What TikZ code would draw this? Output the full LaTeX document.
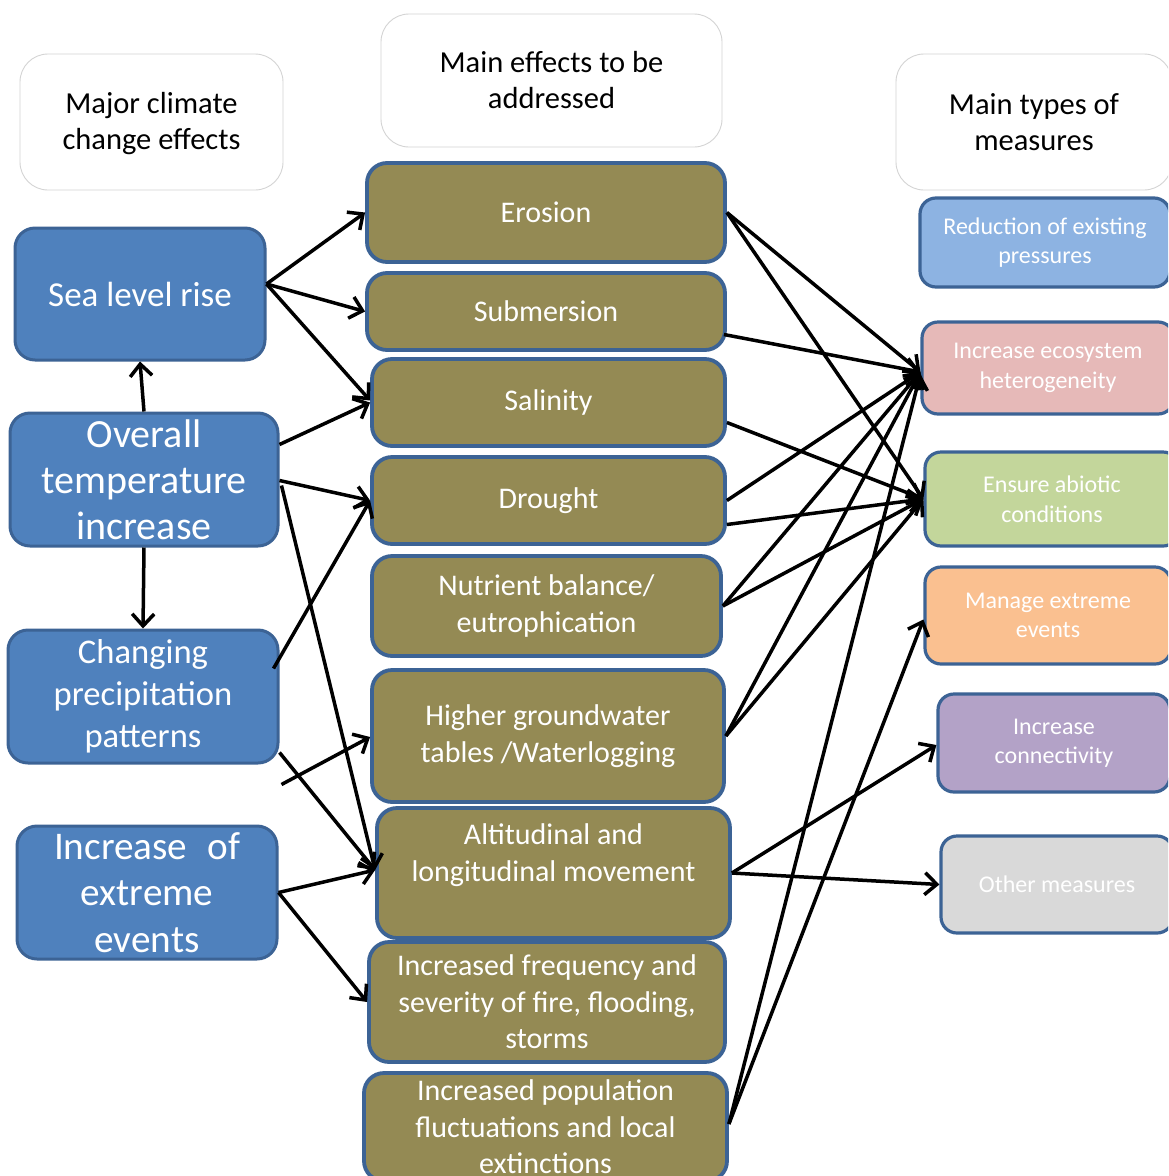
\documentclass[tikz,border=0pt]{standalone}
\usepackage{fontspec}
\setmainfont{Carlito}
\usetikzlibrary{arrows.meta,calc}
\definecolor{causefill}{HTML}{4F81BD}
\definecolor{boxline}{HTML}{3C6395}
\definecolor{olivefill}{HTML}{948A54}
\definecolor{hdrline}{HTML}{D4D4D4}
\definecolor{redfill}{HTML}{8DB3E2}
\definecolor{hetfill}{HTML}{E6B9B8}
\definecolor{abifill}{HTML}{C3D69B}
\definecolor{manfill}{HTML}{FAC090}
\definecolor{confill}{HTML}{B3A2C7}
\definecolor{othfill}{HTML}{D9D9D9}
\begin{document}
\begin{tikzpicture}[x=1pt,y=-1pt,
  hdr/.style={draw=hdrline, line width=0.9pt, fill=white, rounded corners=28pt,
    font=\fontsize{30.5}{36}\selectfont, align=center, inner sep=0pt, text=black},
  cause/.style={draw=boxline, line width=3pt, fill=causefill, rounded corners=20pt,
    text=white, align=center, inner sep=0pt},
  effect/.style={draw=boxline, line width=3.8pt, fill=olivefill, rounded corners=20pt,
    text=white, align=center, inner sep=0pt, font=\fontsize{30}{36.5}\selectfont},
  efftext/.style={text=white, align=center, inner sep=0pt, font=\fontsize{30}{36.5}\selectfont},
  meas/.style={draw=boxline, line width=3.2pt, rounded corners=16pt,
    text=white, align=center, inner sep=0pt, font=\fontsize{24}{29.5}\selectfont},
  arr/.style={line width=3.5pt, -{Straight Barb[length=12pt,width=22pt]}}
]
\useasboundingbox (0,0) rectangle (1168,1176);
\clip (0,0) rectangle (1168,1176);
\fill[white] (0,0) rectangle (1168,1176);

% headers
\node[hdr, minimum width=263, minimum height=136] (hA) at (151.5,122) {};
\node[text=black, align=center, inner sep=0pt, font=\fontsize{30.5}{36}\selectfont] (hAT) at ($(hA.center)+(0,2)$) {Major climate\\change effects};
\node[hdr, minimum width=341, minimum height=133] (hB) at (551.5,80.5) {Main effects to be\\addressed};
\node[hdr, minimum width=276, minimum height=136] (hC) at (1034,122) {Main types of\\measures};

% causes
\node[cause, minimum width=250, minimum height=132, font=\fontsize{35}{42}\selectfont] (sea) at (140,294) {Sea level rise};
\node[cause, minimum width=268, minimum height=133, font=\fontsize{40}{46}\selectfont] (temp) at (144,479.5) {Overall\\temperature\\increase};
\node[cause, minimum width=270, minimum height=133, font=\fontsize{34.6}{42}\selectfont] (prec) at (143,696.5) {Changing\\precipitation\\patterns};
\node[cause, minimum width=260, minimum height=133, font=\fontsize{39.2}{46.5}\selectfont] (ext) at (147,892.5) {Increase\hspace{20pt}of\\extreme\\events};

% effects
\node[effect, minimum width=358, minimum height=99] (ero) at (546,212.5) {Erosion};
\node[effect, minimum width=358, minimum height=77] (sub) at (546,311.5) {Submersion};
\node[effect, minimum width=353, minimum height=87] (sal) at (548.5,402.5) {Salinity};
\node[effect, minimum width=353, minimum height=87] (dro) at (548.5,500.5) {Drought};
\node[effect, minimum width=349, minimum height=100] (nut) at (546.5,606) {Nutrient balance/\\eutrophication};
\node[effect, minimum width=352, minimum height=132] (gw) at (548,736) {Higher groundwater\\tables /Waterlogging};
\node[effect, minimum width=353, minimum height=130] (alt) at (553.5,873) {};
\node[efftext] (altT) at ($(alt.center)+(0,-18)$) {Altitudinal and\\longitudinal movement};
\node[effect, minimum width=356, minimum height=120] (fire) at (547,1002) {Increased frequency and\\severity of fire, flooding,\\storms};
\node[effect, minimum width=363, minimum height=108] (pop) at (545.5,1127) {Increased population\\fluctuations and local\\extinctions};

% measures
\node[meas, fill=redfill, minimum width=250, minimum height=89] (red) at (1045,242.5) {Reduction of existing\\pressures};
\node[meas, fill=hetfill, minimum width=252, minimum height=92] (het) at (1048,368) {Increase ecosystem\\heterogeneity};
\node[meas, fill=abifill, minimum width=254, minimum height=94] (abi) at (1052,499) {Ensure abiotic\\conditions};
\node[meas, fill=manfill, minimum width=246, minimum height=97] (man) at (1048,615.5) {Manage extreme\\events};
\node[meas, fill=confill, minimum width=232, minimum height=98] (con) at (1054,743) {Increase\\connectivity};
\node[meas, fill=othfill, minimum width=232, minimum height=97] (oth) at (1057,884.5) {Other measures};

% causes -> effects
\coordinate (seaout) at ([yshift=10pt]sea.east);
\draw[arr] (seaout) -- (ero.west);
\draw[arr] (seaout) -- (sub.west);
\draw[arr] (seaout) -- ([yshift=2pt]sal.west);
\draw[arr] (temp.north) -- (sea.south);
\draw[arr] ([yshift=35pt]temp.east) -- (sal.west);
\draw[arr] ([yshift=-1pt]temp.east) -- (dro.west);
\draw[arr] ([xshift=2pt,yshift=-6pt]temp.east) -- ([yshift=3pt]alt.west);
\draw[arr] (temp.south) -- (prec.north);
\draw[arr] ([xshift=-6pt,yshift=28pt]prec.east) -- (dro.west);
\draw[arr] ([xshift=2pt,yshift=-20pt]prec.south east) -- ([yshift=-1pt]gw.west);
\draw[arr] ([yshift=-56pt]prec.east) -- ([yshift=3pt]alt.west);
\draw[arr] (ext.east) -- ([yshift=3pt]alt.west);
\draw[arr] (ext.east) -- (fire.west);

% effects -> measures
\draw[arr] (ero.east) -- ([yshift=-4pt]het.west);
\draw[arr] (ero.east) -- (abi.west);
\draw[arr] ([xshift=-3pt,yshift=-23pt]sub.east) -- ([yshift=-4pt]het.west);
\draw[arr] ([yshift=-20pt]sal.east) -- (abi.west);
\draw[arr] (dro.east) -- ([yshift=-4pt]het.west);
\draw[arr] ([yshift=-24pt]dro.east) -- (abi.west);
\draw[arr] (nut.east) -- ([yshift=-4pt]het.west);
\draw[arr] (nut.east) -- (abi.west);
\draw[arr] (gw.east) -- ([yshift=-4pt]het.west);
\draw[arr] (gw.east) -- (abi.west);
\draw[arr] (alt.east) -- ([yshift=-2pt]con.west);
\draw[arr] (alt.east) -- (oth.west);
\coordinate (popout) at ([yshift=3pt]pop.east);
\draw[arr] (popout) -- ([yshift=-6pt]het.west);
\draw[arr] (popout) -- ([yshift=-4pt]man.west);
\end{tikzpicture}
\end{document}
